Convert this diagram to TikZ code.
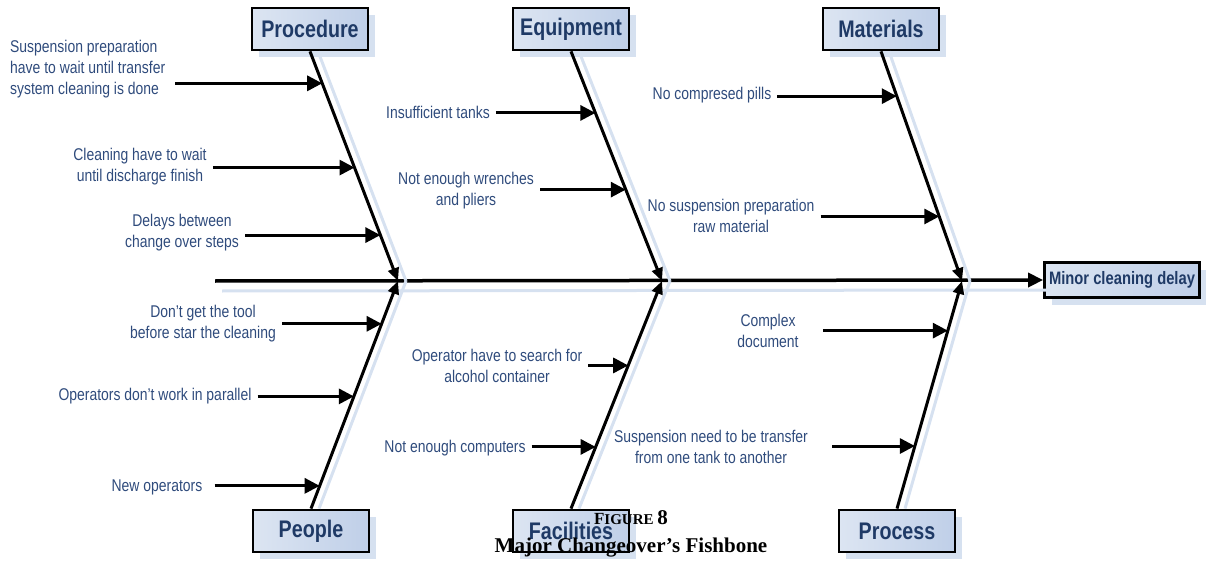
\documentclass[tikz,border=0pt]{standalone}
\usepackage{fontspec}
\usetikzlibrary{arrows.meta,shadows,calc}
\newfontfamily\narrowfont[FakeStretch=0.82]{Liberation Sans}
\newfontfamily\capfont{Liberation Serif}
\definecolor{labelblue}{HTML}{2F4B7C}
\definecolor{catblue}{HTML}{1F3A66}
\definecolor{shadowblue}{HTML}{D6E1F0}
\definecolor{boxleft}{HTML}{DCE5F2}
\definecolor{boxright}{HTML}{BFCFE8}

\begin{document}
\begin{tikzpicture}[x=1pt, y=-1pt,
    catbox/.style = {draw, line width=2.8pt, left color=boxleft, right color=boxright,
        minimum width=116pt, minimum height=42pt, inner sep=0pt, text=catblue,
        font=\narrowfont\bfseries\fontsize{24}{24}\selectfont,
        drop shadow={shadow xshift=7pt, shadow yshift=-7pt, fill=shadowblue, opacity=1}},
    effectbox/.style = {catbox, minimum width=155pt, minimum height=35pt,
        font=\narrowfont\bfseries\fontsize{18}{18}\selectfont},
    lbl/.style = {inner sep=0pt, align=center, text=labelblue,
        font=\narrowfont\fontsize{17}{21}\selectfont},
    spine/.style = {line width=3.5pt, -{Triangle[length=15pt,width=14pt]},
        preaction={draw=shadowblue, line width=3pt, -, transform canvas={xshift=7pt, yshift=-10pt}}},
    bone/.style = {line width=3pt, -{Triangle[length=13pt,width=11pt]},
        preaction={draw=shadowblue, line width=3pt, -, transform canvas={xshift=8pt}}},
    cause/.style = {line width=3pt, -{Triangle[length=15pt,width=15pt]}, shorten <=6pt}]
    \useasboundingbox (0,0) rectangle (1206,561);

    % effect and spine
    \node[effectbox] (effect) at (1122,280) {Minor cleaning delay};
    \coordinate (tail) at (215,281);
    \coordinate (jA) at (398,281);
    \coordinate (jB) at (662,281);
    \coordinate (jC) at (962,281);
    \draw[spine] (tail) -- (effect.west);

    % categories
    \node[catbox] (procedure) at (310,29) {Procedure};
    \node[catbox] (equipment) at (571,29) {Equipment};
    \node[catbox] (materials) at (881,29) {Materials};
    \node[catbox] (people) at (311,531) {People};
    \node[catbox] (facilities) at (571,531) {Facilities};
    \node[catbox] (process) at (897,531) {Process};

    % bones
    \draw[bone] (procedure.south) -- coordinate[pos=.139] (pr1) coordinate[pos=.506] (pr2)
        coordinate[pos=.80] (pr3) (jA);
    \draw[bone] (people.north) -- coordinate[pos=.812] (pe1) coordinate[pos=.493] (pe2)
        coordinate[pos=.10] (pe3) (jA);
    \draw[bone] (equipment.south) -- coordinate[pos=.268] (eq1) coordinate[pos=.602] (eq2) (jB);
    \draw[bone] (facilities.north) -- coordinate[pos=.629] (fa1) coordinate[pos=.271] (fa2) (jB);
    \draw[bone] (materials.south) -- coordinate[pos=.195] (ma1) coordinate[pos=.719] (ma2) (jC);
    \draw[bone] (process.north) -- coordinate[pos=.782] (ps1) coordinate[pos=.275] (ps2) (jC);

    % causes
    \node[lbl, align=left, anchor=west] (s1) at (10,69) {Suspension preparation\\have to wait until transfer\\system cleaning is done};
    \node[lbl] (s2) at (140,167) {Cleaning have to wait\\until discharge finish};
    \node[lbl] (s3) at (182,233) {Delays between\\change over steps};
    \node[lbl] (s4) at (203,324) {Don’t get the tool\\before star the cleaning};
    \node[lbl] (s5) at (155,396) {Operators don’t work in parallel};
    \node[lbl] (s6) at (157,487) {New operators};
    \node[lbl] (e1) at (438,112) {Insufficient tanks};
    \node[lbl] (e2) at (466,191) {Not enough wrenches\\and pliers};
    \node[lbl] (f1) at (497,366) {Operator have to search for\\alcohol container};
    \node[lbl] (f2) at (455,448) {Not enough computers};
    \node[lbl] (m1) at (712,95) {No compresed pills};
    \node[lbl] (m2) at (731,216) {No suspension preparation\\raw material};
    \node[lbl] (r1) at (768,331) {Complex\\document};
    \node[lbl] (r2) at (711,447) {Suspension need to be transfer\\from one tank to another};

    \draw[cause, shorten <=10pt] (s1.east |- pr1) -- (pr1);
    \draw[cause] (s2.east |- pr2) -- (pr2);
    \draw[cause] (s3.east |- pr3) -- (pr3);
    \draw[cause] (s4.east |- pe1) -- (pe1);
    \draw[cause] (s5.east |- pe2) -- (pe2);
    \draw[cause, shorten <=12pt] (s6.east |- pe3) -- (pe3);
    \draw[cause] (e1.east |- eq1) -- (eq1);
    \draw[cause] (e2.east |- eq2) -- (eq2);
    \draw[cause] (f1.east |- fa1) -- (fa1);
    \draw[cause] (f2.east |- fa2) -- (fa2);
    \draw[cause] (m1.east |- ma1) -- (ma1);
    \draw[cause] (m2.east |- ma2) -- (ma2);
    \draw[cause, shorten <=24pt] (r1.east |- ps1) -- (ps1);
    \draw[cause, shorten <=24pt] (r2.east |- ps2) -- (ps2);

    % caption
    \node[font=\capfont\bfseries] (fig) at (631,518) {\fontsize{17}{17}\selectfont F\fontsize{15}{15}\selectfont IGURE {\fontsize{21}{21}\selectfont 8}};
    \node[font=\capfont\bfseries\fontsize{21}{21}\selectfont] (title) at (631,548) {Major Changeover’s Fishbone};
\end{tikzpicture}
\end{document}
